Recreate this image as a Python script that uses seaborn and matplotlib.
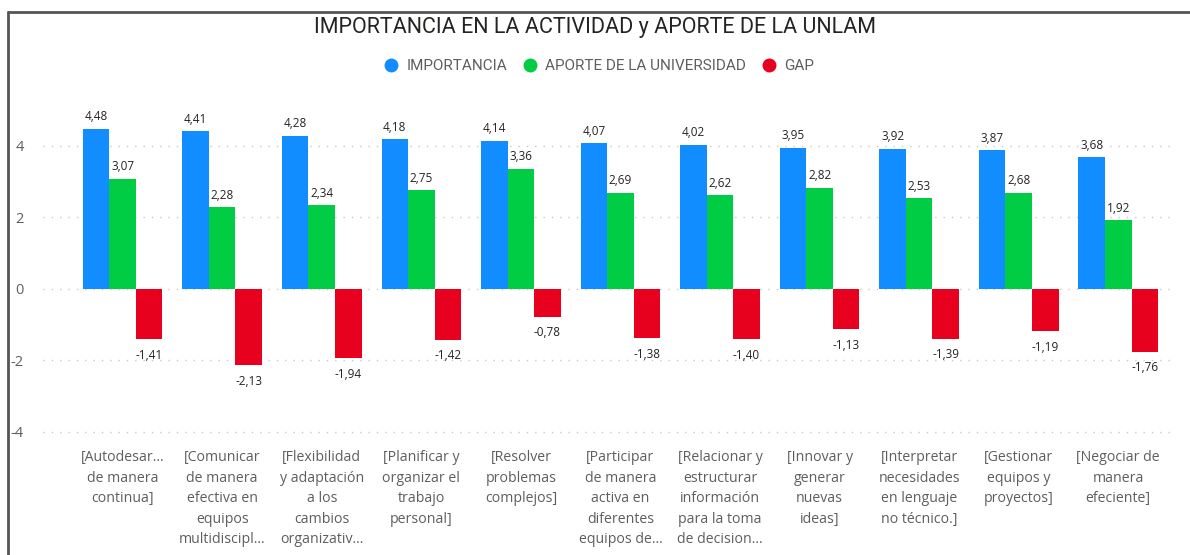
import matplotlib
matplotlib.use("Agg")
import matplotlib.pyplot as plt
import seaborn as sns
import pandas as pd
from matplotlib.lines import Line2D

categories = [
    "[Autodesar...\nde manera\ncontinua]",
    "[Comunicar\nde manera\nefectiva en\nequipos\nmultidiscipl...",
    "[Flexibilidad\ny adaptación\na los\ncambios\norganizativ...",
    "[Planificar y\norganizar el\ntrabajo\npersonal]",
    "[Resolver\nproblemas\ncomplejos]",
    "[Participar\nde manera\nactiva en\ndiferentes\nequipos de...",
    "[Relacionar y\nestructurar\ninformación\npara la toma\nde decision...",
    "[Innovar y\ngenerar\nnuevas\nideas]",
    "[Interpretar\nnecesidades\nen lenguaje\nno técnico.]",
    "[Gestionar\nequipos y\nproyectos]",
    "[Negociar de\nmanera\nefeciente]",
]
importancia = [4.48, 4.41, 4.28, 4.18, 4.14, 4.07, 4.02, 3.95, 3.92, 3.87, 3.68]
aporte = [3.07, 2.28, 2.34, 2.75, 3.36, 2.69, 2.62, 2.82, 2.53, 2.68, 1.92]
gap = [-1.41, -2.13, -1.94, -1.42, -0.78, -1.38, -1.40, -1.13, -1.39, -1.19, -1.76]
series_names = ["IMPORTANCIA", "APORTE DE LA UNIVERSIDAD", "GAP"]
colors = ["#118DFF", "#00CC44", "#E8001F"]
yticks = [-4, -2, 0, 2, 4]

rows = []
for name, vals in zip(series_names, [importancia, aporte, gap]):
    for c, v in zip(categories, vals):
        rows.append({"cat": c, "serie": name, "valor": v})
df = pd.DataFrame(rows)

sns.set_theme(style="white")
plt.rcParams["font.family"] = ["Open Sans", "DejaVu Sans"]

fig = plt.figure(figsize=(11.9, 5.55), dpi=100)
ax = fig.add_axes([43/1190, 1-439/555, (1175-43)/1190, (439-110)/555])

sns.barplot(data=df, x="cat", y="valor", hue="serie", order=categories,
            hue_order=series_names, palette=colors, ax=ax, width=0.8,
            saturation=1, legend=False, linewidth=0)

for i, cont in enumerate(ax.containers):
    labels = [f"{b.get_height():.2f}".replace(".", ",") for b in cont]
    ax.bar_label(cont, labels=labels, padding=7 if i == 2 else 4,
                 fontsize=8.5, color="#252423")

ax.set_xlim(-0.8, 10.57)
ax.set_ylim(-4.2, 5.0)
ax.set_yticks(yticks)
ax.set_yticklabels([str(t) for t in yticks], fontsize=10.5, color="#605E5C")
ax.tick_params(axis="y", length=0, pad=14)
ax.tick_params(axis="x", length=0, pad=8)
ax.set_xticks(range(len(categories)))
ax.set_xticklabels(categories, fontsize=10.2, color="#605E5C", linespacing=1.5, va="top")
for t in yticks:
    ax.axhline(t, color="#C8C8C8", linestyle=(0, (1, 5)), linewidth=1, zorder=0)
for s in ax.spines.values():
    s.set_visible(False)
ax.set_xlabel("")
ax.set_ylabel("")

fig.text(0.5, 1-28/555, "IMPORTANCIA EN LA ACTIVIDAD y APORTE DE LA UNLAM",
         ha="center", va="center", color="#252423",
         family=["Roboto", "DejaVu Sans"], fontsize=15.5)

handles = [Line2D([], [], marker="o", linestyle="", color=c, markersize=9) for c in colors]
fig.legend(handles, series_names, loc="center", bbox_to_anchor=(0.5, 1-66/555),
           ncol=3, frameon=False, handletextpad=0.0, columnspacing=0.5,
           labelcolor="#605E5C", prop={"family": ["Roboto", "DejaVu Sans"], "size": 11})

fig.add_artist(Line2D([8/1190, 1], [1-12/555, 1-12/555], color="#555555", linewidth=2))
fig.add_artist(Line2D([8/1190, 8/1190], [0, 1-12/555], color="#555555", linewidth=2))

fig.savefig("out.png", dpi=100)
